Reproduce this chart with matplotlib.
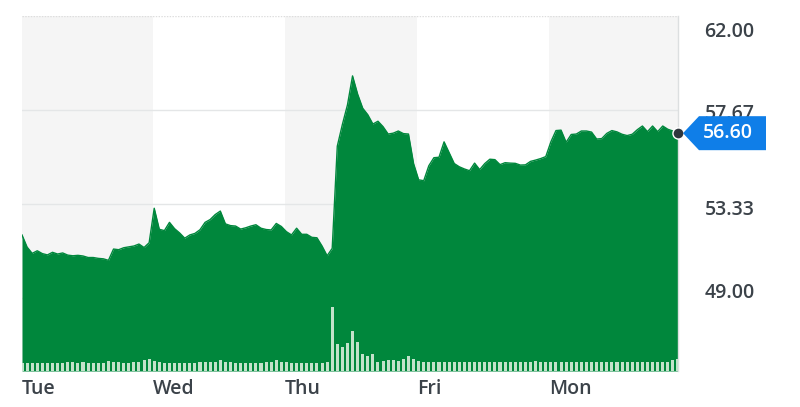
import matplotlib
matplotlib.use("Agg")
import matplotlib.pyplot as plt
from matplotlib.patches import Polygon
from matplotlib.transforms import ScaledTranslation

plt.rcParams['font.family'] = ['Open Sans', 'DejaVu Sans']

# ---- data ----
days = ["Tue", "Wed", "Thu", "Fri", "Mon"]
points_per_day = 26

price = [
    51.91, 51.35, 51.06, 51.18, 51.05, 50.99, 51.11, 51.03, 51.08, 50.98,
    50.95, 50.97, 50.94, 50.87, 50.87, 50.83, 50.81, 50.74, 51.26, 51.23,
    51.32, 51.36, 51.40, 51.49, 51.33, 51.55, 53.14, 52.17, 52.11, 52.49,
    52.20, 52.00, 51.76, 51.91, 51.98, 52.15, 52.49, 52.62, 52.85, 53.01,
    52.42, 52.34, 52.32, 52.18, 52.24, 52.32, 52.38, 52.22, 52.16, 52.14,
    52.44, 52.30, 52.06, 51.91, 52.22, 51.94, 51.94, 51.80, 51.78, 51.40,
    50.95, 51.29, 56.00, 57.00, 57.90, 59.24, 58.40, 57.75, 57.45, 57.02,
    57.15, 56.90, 56.56, 56.60, 56.70, 56.58, 56.56, 55.20, 54.45, 54.41,
    55.10, 55.47, 55.49, 56.20, 55.70, 55.20, 55.05, 54.95, 54.87, 55.22,
    54.92, 55.20, 55.40, 55.38, 55.15, 55.24, 55.22, 55.21, 55.13, 55.14,
    55.30, 55.36, 55.43, 55.52, 56.20, 56.72, 56.74, 56.18, 56.54, 56.56,
    56.70, 56.70, 56.65, 56.33, 56.35, 56.59, 56.72, 56.66, 56.55, 56.49,
    56.55, 56.76, 56.93, 56.67, 56.93, 56.67, 56.93, 56.78, 56.70, 56.60,
]

volume = [
    84, 82, 83, 84, 84, 82, 84, 83, 84, 86,
    88, 85, 86, 84, 83, 84, 83, 100, 92, 86,
    85, 84, 88, 90, 112, 118, 100, 92, 85, 84,
    84, 84, 84, 85, 85, 88, 90, 88, 92, 108,
    90, 86, 84, 84, 84, 84, 84, 84, 86, 90,
    106, 92, 86, 84, 84, 84, 84, 84, 84, 85,
    92, 640, 270, 245, 280, 400, 290, 175, 150, 172,
    92, 100, 108, 108, 100, 118, 155, 118, 100, 92,
    92, 90, 88, 90, 88, 88, 86, 86, 86, 86,
    88, 86, 86, 86, 86, 86, 86, 86, 86, 86,
    88, 105, 92, 90, 95, 90, 88, 86, 86, 86,
    86, 86, 86, 86, 86, 86, 86, 86, 86, 86,
    86, 86, 88, 90, 92, 95, 90, 88, 110, 120,
]

y_ticks = [62.00, 57.67, 53.33, 49.00]
y_tick_labels = ["62.00", "57.67", "53.33", "49.00"]
last_label = "56.60"

# ---- style ----
GREEN = "#00873c"
BAR = "#c3e2cb"
BAND = "#f5f5f5"
GRID = "#e4e6e7"
TEXT = "#3b4249"
BLUE = "#0f7ee8"

W, H = 800, 407
fig = plt.figure(figsize=(W / 100, H / 100), dpi=100)
ax_l, ax_r, ax_t, ax_b = 22, 678, 16, 371
ax = fig.add_axes([ax_l / W, (H - ax_b) / H, (ax_r - ax_l) / W, (ax_b - ax_t) / H])

n = len(price)
x = list(range(n))
ymin, ymax = 45.64, 62.0
ax.set_xlim(0, n - 1)
ax.set_ylim(ymin, ymax)

# day bands
starts = [k * points_per_day - 0.3 for k in range(len(days))]
ends = starts[1:] + [n - 1]
for k, (s, e) in enumerate(zip(starts, ends)):
    if k % 2 == 0:
        ax.axvspan(max(s, 0), e, color=BAND, zorder=0, lw=0)

# gridlines
for t in y_ticks:
    if t == ymax:
        ax.axhline(t, color="#dddddd", lw=1, ls=(0, (1, 1)), zorder=1)
    else:
        ax.axhline(t, color=GRID, lw=1, zorder=1)

# area
ax.fill_between(x, price, ymin, color=GREEN, lw=0, zorder=2)
ax.plot(x, price, color=GREEN, lw=1, zorder=2)

# volume
axv = ax.twinx()
axv.set_ylim(0, 3550)
axv.bar(x, volume, width=0.6, color=BAR, lw=0, zorder=3)
axv.set_yticks([])
for sp in axv.spines.values():
    sp.set_visible(False)

# axes cosmetics
for name, sp in ax.spines.items():
    sp.set_visible(False)
ax.spines['right'].set_visible(True)
ax.spines['right'].set_color("#dcdfe0")
ax.spines['right'].set_linewidth(1)

ax.yaxis.tick_right()
ax.set_yticks(y_ticks)
ax.set_yticklabels(y_tick_labels)
ax.tick_params(axis='y', length=0, pad=19, labelsize=14, labelcolor=TEXT)
label_shift_px = {"62.00": -14, "57.67": -2, "53.33": -3, "49.00": 8}
for lab in ax.get_yticklabels():
    lab.set_fontweight("semibold")
    dy = label_shift_px.get(lab.get_text(), 0)
    lab.set_transform(lab.get_transform() + ScaledTranslation(0, dy / 100, fig.dpi_scale_trans))

ax.set_xticks([max(s, 0) for s in starts])
ax.set_xticklabels(days)
ax.tick_params(axis='x', length=0, pad=6, labelsize=14, labelcolor=TEXT)
for lab in ax.get_xticklabels():
    lab.set_ha("left")
    lab.set_fontweight("semibold")

# last price marker and tag
ax.plot([n - 1], [price[-1]], 'o', ms=8, color="#2f363d", mec="white", mew=1,
        zorder=6, clip_on=False)
fig.canvas.draw()
px, py = ax.transData.transform((n - 1, price[-1]))
hh = 17
poly = Polygon([(px + 5, py), (px + 21, py + hh), (px + 88, py + hh),
                (px + 88, py - hh), (px + 21, py - hh)],
               closed=True, transform=None, facecolor=BLUE, edgecolor="none",
               zorder=7)
fig.patches.append(poly)
fig.text((px + 50) / W, py / H, last_label, color="white", fontsize=14,
         fontweight="semibold", ha="center", va="center", zorder=8)

fig.savefig("out.png", dpi=100)
